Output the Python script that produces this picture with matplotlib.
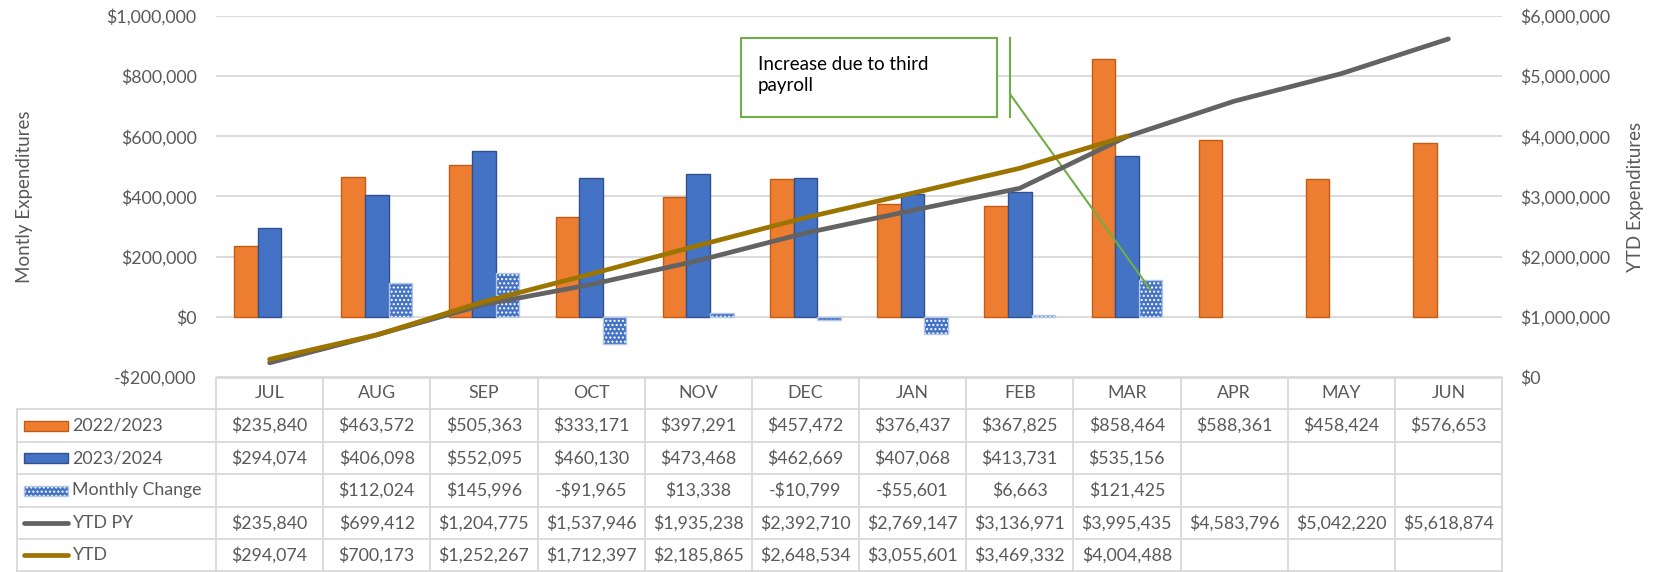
import matplotlib
matplotlib.use('Agg')
import matplotlib.pyplot as plt
import numpy as np
from matplotlib.patches import Rectangle
from matplotlib.lines import Line2D

plt.rcParams['font.family'] = ['Lato', 'DejaVu Sans']

# data
months = ['JUL', 'AUG', 'SEP', 'OCT', 'NOV', 'DEC', 'JAN', 'FEB', 'MAR', 'APR', 'MAY', 'JUN']
prev_year = [235840, 463572, 505363, 333171, 397291, 457472, 376437, 367825, 858464, 588361, 458424, 576653]
curr_year = [294074, 406098, 552095, 460130, 473468, 462669, 407068, 413731, 535156, None, None, None]
monthly_change = [None, 112024, 145996, -91965, 13338, -10799, -55601, 6663, 121425, None, None, None]
ytd_py = [235840, 699412, 1204775, 1537946, 1935238, 2392710, 2769147, 3136971, 3995435, 4583796, 5042220, 5618874]
ytd = [294074, 700173, 1252267, 1712397, 2185865, 2648534, 3055601, 3469332, 4004488, None, None, None]
series_names = ['2022/2023', '2023/2024', 'Monthly Change', 'YTD PY', 'YTD']
note = 'Increase due to third\npayroll'

ORANGE = '#ED7D31'
BLUE = '#4472C4'
GRAY = '#636363'
GOLD = '#9C7500'
GREEN = '#70AD47'
TXT = '#595959'
GRID = '#D9D9D9'


def nan(v):
    return np.array([np.nan if x is None else x for x in v], dtype=float)


def money(v):
    if v is None:
        return ''
    return ('-$' if v < 0 else '$') + f'{abs(v):,.0f}'


W, H = 1654, 572
fig = plt.figure(figsize=(W / 100, H / 100), dpi=100)

# layout in pixels
px_l, px_r, px_t, px_b = 216, 1502, 16, 377
ax = fig.add_axes([px_l / W, 1 - px_b / H, (px_r - px_l) / W, (px_b - px_t) / H])
ax2 = ax.twinx()

fs = 12.8
x = np.arange(len(months))
bw = 0.22
ax.bar(x - bw, nan(prev_year), bw, color=ORANGE, edgecolor='#C55A11', linewidth=1, zorder=2)
ax.bar(x, nan(curr_year), bw, color=BLUE, edgecolor='#2F528F', linewidth=1, zorder=2)
ax.bar(x + bw, nan(monthly_change), bw, color=BLUE, edgecolor='white', hatch='....', linewidth=0, zorder=2)
ax.bar(x + bw, nan(monthly_change), bw, fill=False, edgecolor='#B4C7E7', linewidth=1, zorder=2)

ax.set_xlim(-0.5, len(months) - 0.5)
ax.set_ylim(-200000, 1000000)
ax.set_yticks(np.arange(-200000, 1000001, 200000))
ax.set_yticklabels([money(v) for v in range(-200000, 1000001, 200000)])
ax.grid(axis='y', color=GRID, linewidth=1.3, zorder=0)
ax.set_axisbelow(True)
ax.set_xticks([])
ax.tick_params(axis='y', length=0, labelsize=fs, labelcolor=TXT, pad=14)
ax.set_ylabel('Montly Expenditures', fontsize=13.5, color=TXT)
ax.yaxis.set_label_coords(-0.142, 0.5)
for s in ax.spines.values():
    s.set_visible(False)

ax2.plot(x, nan(ytd_py), color=GRAY, linewidth=3.4, solid_capstyle='round', solid_joinstyle='round', zorder=3)
ax2.plot(x, nan(ytd), color=GOLD, linewidth=3.4, solid_capstyle='round', solid_joinstyle='round', zorder=4)
ax2.set_ylim(0, 6000000)
ax2.set_yticks(np.arange(0, 6000001, 1000000))
ax2.set_yticklabels([money(v) for v in range(0, 6000001, 1000000)])
ax2.tick_params(axis='y', length=0, labelsize=fs, labelcolor=TXT, pad=13)
ax2.set_ylabel('YTD Expenditures', fontsize=13.5, color=TXT, rotation=90)
ax2.yaxis.set_label_coords(1.097, 0.5)
for s in ax2.spines.values():
    s.set_visible(False)

# callout
box = Rectangle((4.40, 663000), 2.39, 264000, facecolor='white', edgecolor=GREEN,
                linewidth=1.5, zorder=6, clip_on=False)
ax.add_patch(box)
ax.text(4.557, 803000, note, fontsize=13.5, color='black', va='center', ha='left',
        linespacing=1.3, zorder=7)
ax.plot([6.91, 6.91], [663000, 927000], color=GREEN, linewidth=1.5, zorder=6, clip_on=False)
ax.plot([6.91, 8 + bw], [740000, 0.74 * monthly_change[8]], color=GREEN, linewidth=1.5, zorder=6)

# data table drawn on an overlay in pixel coordinates
ov = fig.add_axes([0, 0, 1, 1])
ov.set_xlim(0, W)
ov.set_ylim(H, 0)
ov.axis('off')
ov.patch.set_alpha(0)

col_w = (px_r - px_l) / len(months)
tbl_l = 17
row_y = [378, 409, 442, 474, 507, 539, 571]
lw = 1.3
# horizontal lines
ov.plot([px_l, px_r], [row_y[0], row_y[0]], color=GRID, linewidth=lw)
for yy in row_y[1:]:
    ov.plot([tbl_l, px_r], [yy, yy], color=GRID, linewidth=lw)
# vertical lines
ov.plot([tbl_l, tbl_l], [row_y[1], row_y[-1]], color=GRID, linewidth=lw)
for i in range(len(months) + 1):
    xx = px_l + i * col_w
    ov.plot([xx, xx], [row_y[0], row_y[-1]], color=GRID, linewidth=lw)

for i, m in enumerate(months):
    cx = px_l + (i + 0.5) * col_w
    ov.text(cx, (row_y[0] + row_y[1]) / 2, m, ha='center', va='center', fontsize=fs, color=TXT)
rows = [prev_year, curr_year, monthly_change, ytd_py, ytd]
for r, vals in enumerate(rows):
    cy = (row_y[r + 1] + row_y[r + 2]) / 2
    for i, v in enumerate(vals):
        cx = px_l + (i + 0.5) * col_w
        ov.text(cx, cy, money(v), ha='center', va='center', fontsize=fs, color=TXT)

# legend keys in the table
key_x0, key_x1 = 24, 68
for r, name in enumerate(series_names):
    cy = (row_y[r + 1] + row_y[r + 2]) / 2
    if r == 0:
        ov.add_patch(Rectangle((key_x0, cy - 5), key_x1 - key_x0, 10, facecolor=ORANGE, edgecolor='#C55A11', linewidth=1))
    elif r == 1:
        ov.add_patch(Rectangle((key_x0, cy - 5), key_x1 - key_x0, 10, facecolor=BLUE, edgecolor='#2F528F', linewidth=1))
    elif r == 2:
        ov.add_patch(Rectangle((key_x0, cy - 5), key_x1 - key_x0, 10, facecolor=BLUE, edgecolor='white', hatch='....', linewidth=0))
        ov.add_patch(Rectangle((key_x0, cy - 5), key_x1 - key_x0, 10, fill=False, edgecolor='#B4C7E7', linewidth=1))
    else:
        c = GRAY if r == 3 else GOLD
        ov.add_line(Line2D([key_x0, key_x1], [cy, cy], color=c, linewidth=3.4, solid_capstyle='round'))
    ov.text(key_x1 + 4, cy, name, ha='left', va='center', fontsize=fs, color=TXT)

fig.savefig('out.png', dpi=100)
